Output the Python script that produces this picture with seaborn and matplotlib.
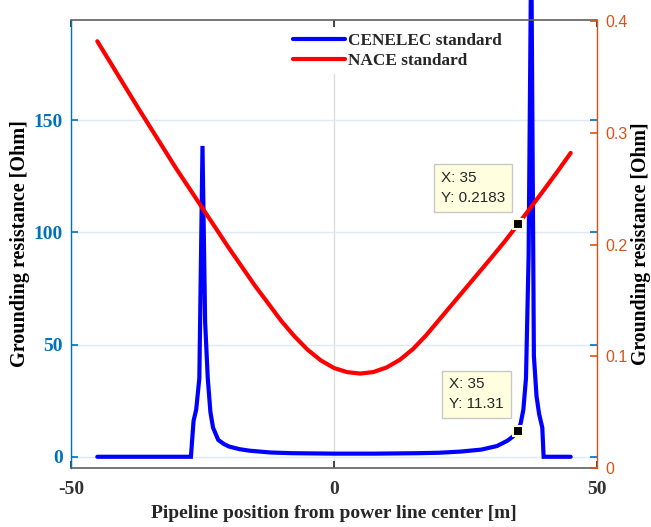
import matplotlib
matplotlib.use("Agg")
import matplotlib.pyplot as plt
import seaborn as sns
import pandas as pd

# ---- data ----
cen_x = [-45, -27.2, -26.7, -26.2, -25.6, -25.0, -24.5, -24.0, -23.5, -23.0, -22.0, -21.0,
         -20.0, -18.0, -16.0, -12.0, -8.0, -4.0, 0.0, 4.0, 8.0, 12.0, 16.0, 20.0, 24.0,
         28.0, 31.0, 33.0, 34.0, 35.0, 35.5, 36.0, 36.5, 37.0, 37.5, 38.0, 38.5, 39.0,
         39.6, 39.85, 45]
cen_y = [0, 0, 16, 21, 35, 138.5, 60, 35, 20, 13, 7.5, 5.8,
         4.6, 3.4, 2.7, 1.9, 1.6, 1.5, 1.4, 1.4, 1.4, 1.5, 1.6, 1.8, 2.3,
         3.2, 4.8, 7.2, 9.0, 11.31, 15, 21, 35, 90, 230, 45, 27, 19,
         13, 0, 0]

nace_x = [-45, -42.5, -40, -37.5, -35, -32.5, -30, -27.5, -25, -22.5, -20, -17.5, -15,
          -12.5, -10, -7.5, -5, -2.5, 0, 2.5, 5, 7.5, 10, 12.5, 15, 17.5, 20, 22.5,
          25, 27.5, 30, 32.5, 35, 37.5, 40, 42.5, 45]
nace_y = [0.382, 0.3628, 0.3435, 0.3243, 0.3055, 0.2868, 0.2680, 0.2503, 0.2325, 0.2148,
          0.1970, 0.1800, 0.1630, 0.1473, 0.1315, 0.1178, 0.1058, 0.0963, 0.0895, 0.0858,
          0.0845, 0.0859, 0.0900, 0.0968, 0.1064, 0.1187, 0.1327, 0.1467, 0.1607, 0.1747,
          0.1887, 0.2030, 0.2183, 0.2338, 0.2495, 0.2655, 0.2820]

x_ticks = [-50, 0, 50]
left_ticks = [0, 50, 100, 150]
right_ticks = [0, 0.1, 0.2, 0.3, 0.4]
right_tick_labels = ["0", "0.1", "0.2", "0.3", "0.4"]

tip_x = 35
tip_cen = 11.31
tip_nace = 0.2183

series_names = ["CENELEC standard", "NACE standard"]

# ---- styling ----
sns.set_style("white")
plt.rcParams["font.family"] = ["Liberation Serif", "DejaVu Serif"]

BLUE_AX = "#0072BD"
ORANGE_AX = "#D95319"
DARK = "#262626"
SERIF = "Liberation Serif"
SANS = "Liberation Sans"

fig = plt.figure(figsize=(6.51, 5.27), dpi=100)
ax = fig.add_axes([71 / 651, 59 / 527, 526 / 651, 448 / 527])

df_c = pd.DataFrame({"x": cen_x, "y": cen_y})
df_n = pd.DataFrame({"x": nace_x, "y": nace_y})

sns.lineplot(data=df_c, x="x", y="y", ax=ax, color="#0000FF", lw=3,
             estimator=None, sort=False)
line_c = ax.lines[0]
line_c.set_clip_on(False)
line_c.set_solid_joinstyle("miter")

ax2 = ax.twinx()
sns.lineplot(data=df_n, x="x", y="y", ax=ax2, color="#FF0000", lw=3,
             estimator=None, sort=False)
line_n = ax2.lines[0]
line_n.set_solid_joinstyle("round")

ax.set_xlim(-50, 50)
ax.set_ylim(-5.0, 194.6)
ax2.set_ylim(0, 0.401)

# grid
ax.set_axisbelow(True)
ax.grid(True, axis="y", color="#dce9f6", lw=1)
ax.grid(True, axis="x", color="#dedede", lw=1)

# spines
for s in ["top", "bottom"]:
    ax.spines[s].set_color("#5f5f5f")
    ax.spines[s].set_linewidth(1.2)
ax.spines["left"].set_color(BLUE_AX)
ax.spines["left"].set_linewidth(1.0)
ax.spines["right"].set_visible(False)
for s in ["top", "bottom", "left"]:
    ax2.spines[s].set_visible(False)
ax2.spines["right"].set_color(ORANGE_AX)
ax2.spines["right"].set_linewidth(1.0)

# ticks
ax.set_xticks(x_ticks, labels=[str(v) for v in x_ticks], fontsize=14,
              fontweight="bold", family=SERIF, color="#333333")
ax.set_yticks(left_ticks, labels=[str(v) for v in left_ticks], fontsize=14,
              fontweight="bold", family=SERIF, color=BLUE_AX)
ax2.set_yticks(right_ticks, labels=right_tick_labels, fontsize=11.5,
               family=SANS, color=ORANGE_AX)

ax.tick_params(axis="x", direction="in", length=5, width=1.2, color=DARK,
               top=True, bottom=True, pad=9)
ax.tick_params(axis="y", direction="in", length=5, width=1.2, color=BLUE_AX,
               left=True, right=True, labelleft=True, labelright=False, pad=6)
ax2.tick_params(axis="y", direction="in", length=5, width=1.2, color=ORANGE_AX,
                right=True, left=False, pad=6)

# axis labels
ax.set_xlabel("Pipeline position from power line center [m]", fontsize=14,
              fontweight="bold", family=SERIF, color=DARK)
ax.xaxis.set_label_coords(0.5, -0.083)
ax.set_ylabel("Grounding resistance [Ohm]", fontsize=14.5, fontweight="bold",
              family=SERIF, color="black")
ax.yaxis.set_label_coords(-0.078, 0.5)
ax2.set_ylabel("Grounding resistance [Ohm]", fontsize=14.2, fontweight="bold",
               family=SERIF, color="black")
ax2.yaxis.set_label_coords(1.0645, 0.5)

# legend
leg = ax2.legend([line_c, line_n], series_names, loc="upper left",
                 bbox_to_anchor=(0.412, 0.982), frameon=True, fancybox=False,
                 facecolor="white", edgecolor="none", framealpha=1,
                 prop={"family": SERIF, "weight": "bold", "size": 12.4},
                 handlelength=3.0, handletextpad=0.2, labelspacing=0.2,
                 borderpad=0.3, borderaxespad=0)

# data tips
tip_box = dict(boxstyle="square,pad=0.45", fc="#ffffe0", ec="#c8c8c8", lw=1)
ax.plot([tip_x], [tip_cen], marker="s", ms=7.5, mfc="black", mec="#ffffe0",
        mew=1.5, ls="none", zorder=6)
ax.annotate(f"X: {tip_x}\nY: {tip_cen}", xy=(tip_x, tip_cen), xytext=(-69, 54),
            textcoords="offset pixels", ha="left", va="top", fontsize=11,
            family=SANS, linespacing=1.55, bbox=tip_box, zorder=6)
ax2.plot([tip_x], [tip_nace], marker="s", ms=7.5, mfc="black", mec="#ffffe0",
         mew=1.5, ls="none", zorder=6)
ax2.annotate(f"X: {tip_x}\nY: {tip_nace}", xy=(tip_x, tip_nace), xytext=(-77, 53.5),
             textcoords="offset pixels", ha="left", va="top", fontsize=11,
             family=SANS, linespacing=1.55, bbox=tip_box, zorder=6)

fig.savefig("out.png", dpi=100)
